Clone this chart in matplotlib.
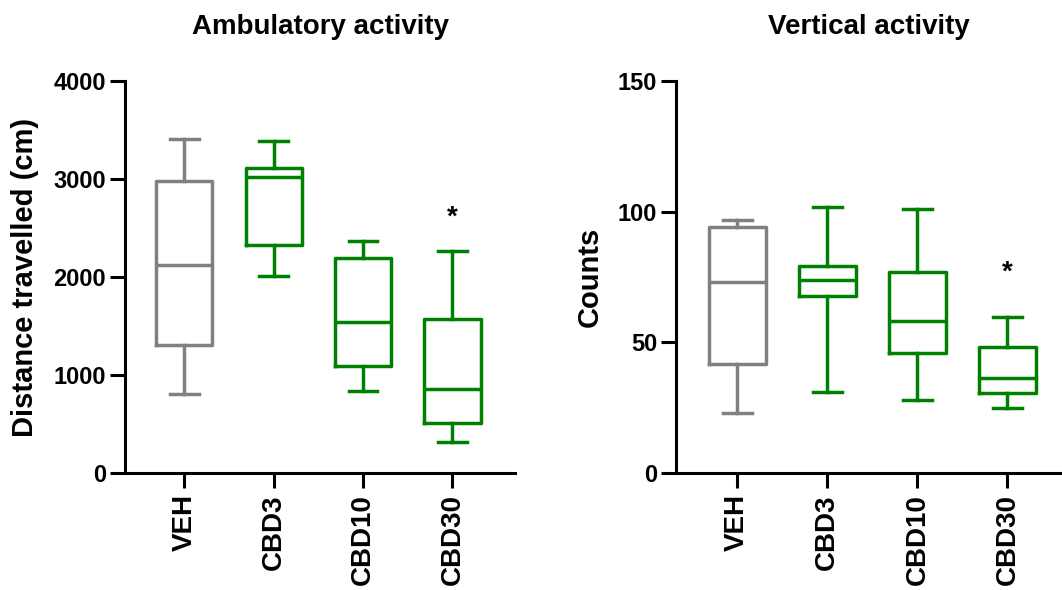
import matplotlib
matplotlib.use("Agg")
import matplotlib.pyplot as plt

plt.rcParams['font.family'] = ['Liberation Sans', 'DejaVu Sans']
plt.rcParams['font.weight'] = 'bold'

groups = ["VEH", "CBD3", "CBD10", "CBD30"]
colors = ["#808080", "#008000", "#008000", "#008000"]

# ambulatory activity: whisker low, Q1, median, Q3, whisker high
amb_low = [810, 2006, 840, 319]
amb_q1 = [1311, 2323, 1088, 510]
amb_med = [2126, 3020, 1544, 857]
amb_q3 = [2974, 3108, 2197, 1575]
amb_high = [3408, 3384, 2364, 2268]

# vertical activity (counts)
vert_low = [23.0, 31.0, 27.9, 24.9]
vert_q1 = [41.8, 67.6, 45.9, 30.8]
vert_med = [73.1, 74.0, 58.0, 36.3]
vert_q3 = [94.3, 79.2, 77.1, 48.1]
vert_high = [96.8, 101.9, 100.9, 59.8]

amb_sig = [None, None, None, "*"]
vert_sig = [None, None, None, "*"]


def make_stats(low, q1, med, q3, high):
    stats = []
    for i in range(len(low)):
        stats.append(dict(whislo=low[i], q1=q1[i], med=med[i], q3=q3[i],
                          whishi=high[i], fliers=[]))
    return stats


def draw_panel(ax, stats, title, ylabel, ymax, yticks, sig, sig_y, xlim):
    lw = 2.5
    for i, st in enumerate(stats):
        c = colors[i]
        ax.bxp([st], positions=[i + 1], widths=0.63, capwidths=0.32,
               showfliers=False, patch_artist=False,
               boxprops=dict(color=c, linewidth=lw),
               whiskerprops=dict(color=c, linewidth=lw),
               capprops=dict(color=c, linewidth=lw),
               medianprops=dict(color=c, linewidth=lw),
               manage_ticks=False)
        if sig[i]:
            ax.text(i + 1, sig_y, sig[i], ha='center', va='baseline',
                    fontsize=20, fontweight='bold')
    ax.set_xlim(*xlim)
    ax.set_ylim(0, ymax)
    ax.set_yticks(yticks)
    ax.set_xticks(range(1, len(groups) + 1))
    ax.set_xticklabels(groups, rotation=90, fontsize=20, fontweight='bold')
    for lab in ax.get_yticklabels():
        lab.set_fontsize(17)
        lab.set_fontweight('bold')
    ax.spines['top'].set_visible(False)
    ax.spines['right'].set_visible(False)
    ax.spines['left'].set_linewidth(2.2)
    ax.spines['bottom'].set_linewidth(2.2)
    ax.tick_params(axis='both', length=11, width=2.2, direction='out')
    ax.tick_params(axis='x', pad=4)
    ax.tick_params(axis='y', pad=3)
    ax.set_title(title, fontsize=20, fontweight='bold', pad=34)
    ax.set_ylabel(ylabel, fontsize=21, fontweight='bold', labelpad=10)


fig = plt.figure(figsize=(10.62, 5.90), dpi=100)
ax1 = fig.add_axes([0.118, 0.198, 0.367, 0.665])
ax2 = fig.add_axes([0.637, 0.198, 0.3625, 0.665])

draw_panel(ax1, make_stats(amb_low, amb_q1, amb_med, amb_q3, amb_high),
           "Ambulatory activity", "Distance travelled (cm)", 4000,
           [0, 1000, 2000, 3000, 4000], amb_sig, 2530, (0.34, 4.70))
draw_panel(ax2, make_stats(vert_low, vert_q1, vert_med, vert_q3, vert_high),
           "Vertical activity", "Counts", 150,
           [0, 50, 100, 150], vert_sig, 74, (0.325, 4.60))

fig.savefig("out.png", dpi=100)
